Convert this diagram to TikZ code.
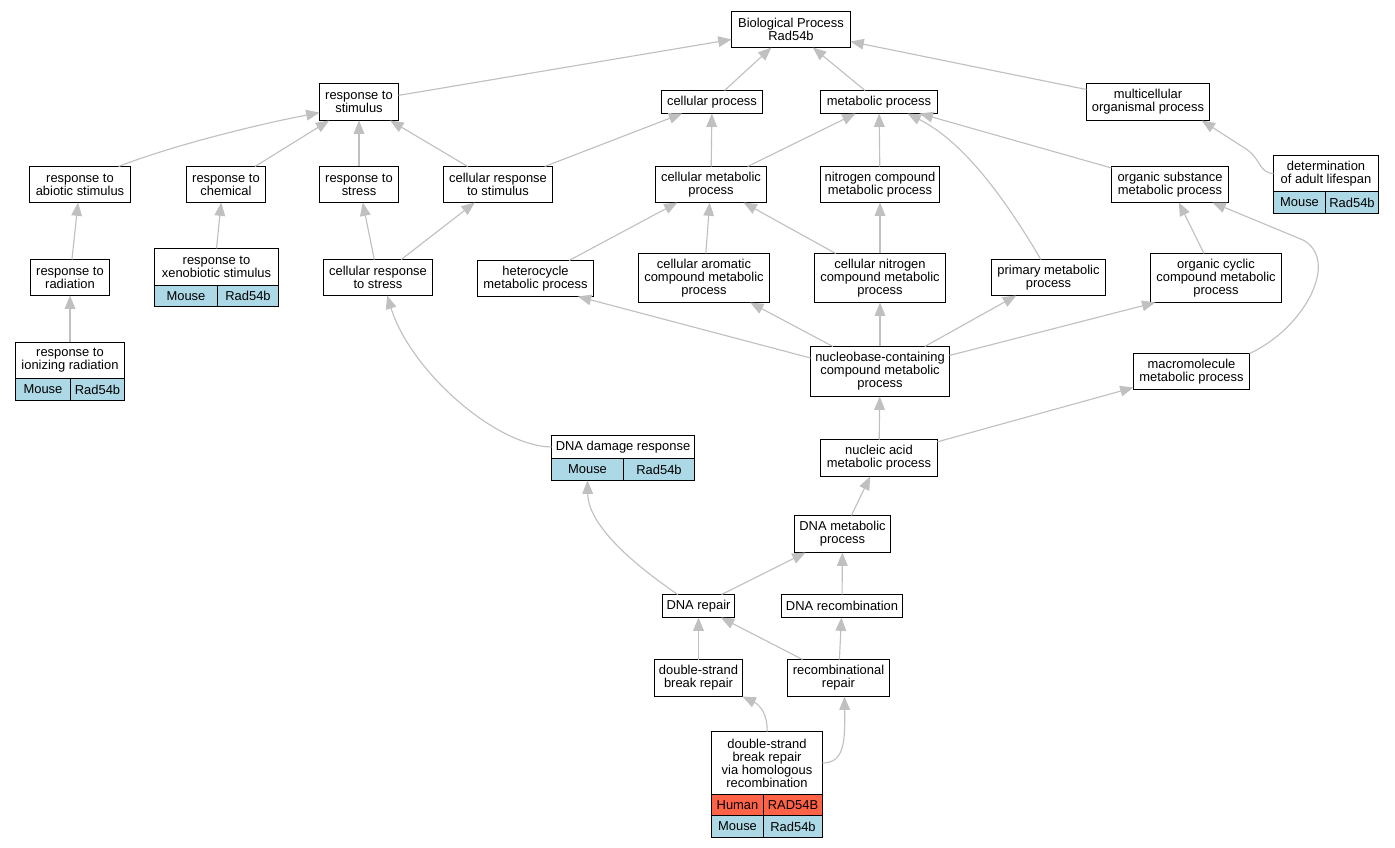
\documentclass[tikz,border=0pt]{standalone}
\usepackage{fontspec}
\setmainfont{Liberation Sans}
\usetikzlibrary{arrows.meta}
\definecolor{edgegray}{HTML}{C0C0C0}
\definecolor{mousecol}{HTML}{ADD8E6}
\definecolor{humancol}{HTML}{FF6347}
\tikzset{
  term/.style={draw=black, line width=0.75pt, fill=white, inner sep=1pt, outer sep=0pt,
    align=center, font=\fontsize{9.7}{9.7}\selectfont},
  sz/.style 2 args={minimum width=#1*0.75pt, minimum height=#2*0.75pt},
  mouse/.style={term, fill=mousecol},
  human/.style={term, fill=humancol},
  edge/.style={draw=edgegray, line width=0.85pt, -{Triangle[length=10pt,width=8pt]}}
}
\begin{document}
\begin{tikzpicture}[x=0.75pt, y=-0.75pt]
    \useasboundingbox (0,0) rectangle (1395,848);

    % Top levels
    \node[term, sz={119}{36}] (bp) at (791,29.5) {Biological Process\\Rad54b};
    \node[term, sz={79}{37}] (rs) at (359,102) {response to\\stimulus};
    \node[term, sz={101}{23}] (cp) at (712,102) {cellular process};
    \node[term, sz={117}{23}] (mp) at (879,102) {metabolic process};
    \node[term, sz={123}{37}] (mop) at (1148,102) {multicellular\\organismal process};

    % Second row
    \node[term, sz={101}{36}] (ras) at (80,184.5) {response to\\abiotic stimulus};
    \node[term, sz={79}{36}] (rch) at (226,184.5) {response to\\chemical};
    \node[term, sz={79}{36}] (rst) at (359,184.5) {response to\\stress};
    \node[term, sz={109}{36}] (crs) at (498,184.5) {cellular response\\to stimulus};
    \node[term, sz={111}{36}] (cmp) at (711,184.5) {cellular metabolic\\process};
    \node[term, sz={119}{36}] (ncmp) at (880,184.5) {nitrogen compound\\metabolic process};
    \node[term, sz={117}{36}] (osmp) at (1170,184.5) {organic substance\\metabolic process};

    % Determination of adult lifespan
    \node[term, sz={105}{36}] (dal) at (1326,173.5) {determination\\of adult lifespan};
    \node[mouse, sz={52}{22}, anchor=north west] (dal-m) at (dal.south west) {Mouse};
    \node[mouse, sz={53}{22}, anchor=north west] (dal-g) at (dal-m.north east) {Rad54b};

    % Third row
    \node[term, sz={79}{36}] (rrad) at (70,277.5) {response to\\radiation};
    \node[term, sz={124}{37}] (rxs) at (216.5,267) {response to\\xenobiotic stimulus};
    \node[mouse, sz={63}{21}, anchor=north west] (rxs-m) at (rxs.south west) {Mouse};
    \node[mouse, sz={61}{21}, anchor=north west] (rxs-g) at (rxs-m.north east) {Rad54b};
    \node[term, sz={109}{36}] (crst) at (378,277.5) {cellular response\\to stress};
    \node[term, sz={116}{36}] (hmp) at (535.5,278.5) {heterocycle\\metabolic process};
    \node[term, sz={131}{49}] (camp) at (704,278) {cellular aromatic\\compound metabolic\\process};
    \node[term, sz={131}{49}] (cnmp) at (880,278) {cellular nitrogen\\compound metabolic\\process};
    \node[term, sz={114}{36}] (pmp) at (1048.5,277.5) {primary metabolic\\process};
    \node[term, sz={131}{49}] (occmp) at (1216,278) {organic cyclic\\compound metabolic\\process};

    % Ionizing radiation
    \node[term, sz={109}{36}] (rir) at (70,360.5) {response to\\ionizing radiation};
    \node[mouse, sz={55}{22}, anchor=north west] (rir-m) at (rir.south west) {Mouse};
    \node[mouse, sz={54}{22}, anchor=north west] (rir-g) at (rir-m.north east) {Rad54b};

    \node[term, sz={139}{50}] (nbmp) at (880,371.5) {nucleobase-containing\\compound metabolic\\process};
    \node[term, sz={116}{36}] (mmp) at (1191.5,371.5) {macromolecule\\metabolic process};

    % DNA damage response
    \node[term, sz={143}{23}] (ddr) at (623,447) {DNA damage response};
    \node[mouse, sz={72}{22}, anchor=north west] (ddr-m) at (ddr.south west) {Mouse};
    \node[mouse, sz={71}{22}, anchor=north west] (ddr-g) at (ddr-m.north east) {Rad54b};

    \node[term, sz={117}{37}] (namp) at (879,458) {nucleic acid\\metabolic process};
    \node[term, sz={96}{37}] (dmp) at (842.5,534) {DNA metabolic\\process};
    \node[term, sz={72}{23}] (dr) at (698.5,606) {DNA repair};
    \node[term, sz={121}{23}] (drec) at (842,606) {DNA recombination};
    \node[term, sz={88}{37}] (dsbr) at (698.5,678) {double-strand\\break repair};
    \node[term, sz={102}{37}] (rr) at (838.5,678) {recombinational\\repair};

    % Double-strand break repair via homologous recombination
    \node[term, sz={111}{63}] (dsbhr) at (767,763) {double-strand\\break repair\\via homologous\\recombination};
    \node[human, sz={52}{21}, anchor=north west] (dsbhr-h) at (dsbhr.south west) {Human};
    \node[human, sz={59}{21}, anchor=north west] (dsbhr-hg) at (dsbhr-h.north east) {RAD54B};
    \node[mouse, sz={52}{22}, anchor=north west] (dsbhr-m) at (dsbhr-h.south west) {Mouse};
    \node[mouse, sz={59}{22}, anchor=north west] (dsbhr-mg) at (dsbhr-m.north east) {Rad54b};

    % Edges to the root
    \draw[edge] (rs) -- (bp);
    \draw[edge] (cp) -- (bp);
    \draw[edge] (mp) -- (bp);
    \draw[edge] (mop) -- (bp);

    % Stimulus branch
    \draw[edge] (ras.25) .. controls (160,150) and (240,128) .. (rs.195);
    \draw[edge] (rch) -- (rs);
    \draw[edge] (rst) -- (rs);
    \draw[edge] (crs) -- (rs);
    \draw[edge] (crs) -- (cp);
    \draw[edge] (rrad) -- (ras);
    \draw[edge] (rir) -- (rrad);
    \draw[edge] (rxs.north) -- (rch.255);
    \draw[edge] (crst) -- (rst);
    \draw[edge] (crst) -- (crs);
    \draw[edge] (ddr.west) .. controls (495,446) and (410,370) .. (crst.297);

    % Metabolic branch
    \draw[edge] (cmp) -- (cp);
    \draw[edge] (cmp) -- (mp);
    \draw[edge] (ncmp) -- (mp);
    \draw[edge] (pmp.113) .. controls (1000,190) and (960,140) .. (mp.338);
    \draw[edge] (osmp) -- (mp);
    \draw[edge] (hmp) -- (cmp);
    \draw[edge] (camp) -- (cmp);
    \draw[edge] (cnmp) -- (cmp);
    \draw[edge] (cnmp) -- (ncmp);
    \draw[edge] (nbmp.169) -- (hmp.337);
    \draw[edge] (nbmp) -- (camp);
    \draw[edge] (nbmp) -- (cnmp);
    \draw[edge] (nbmp) -- (pmp);
    \draw[edge] (nbmp.13) -- (occmp.202);
    \draw[edge] (occmp) -- (osmp);
    \draw[edge] (mmp.north east) .. controls (1305,328) and (1340,260) .. (1303,240) -- (osmp.337);
    \draw[edge] (dal.west) .. controls (1258,173) and (1262,158) .. (1243,147) -- (mop.341);
    \draw[edge] (namp) -- (nbmp);
    \draw[edge] (namp) -- (mmp);

    % DNA branch
    \draw[edge] (dmp) -- (namp);
    \draw[edge] (dr) -- (dmp);
    \draw[edge] (drec) -- (dmp);
    \draw[edge] (dr.151) .. controls (620,555) and (588,520) .. (ddr-m.south);
    \draw[edge] (dsbr) -- (dr);
    \draw[edge] (rr) -- (dr);
    \draw[edge] (rr) -- (drec);
    \draw[edge] (dsbhr.north) .. controls (768,715) and (760,705) .. (dsbr.south east);
    \draw[edge] (dsbhr.east) .. controls (845,763) and (845,740) .. (rr.288);
\end{tikzpicture}
\end{document}
